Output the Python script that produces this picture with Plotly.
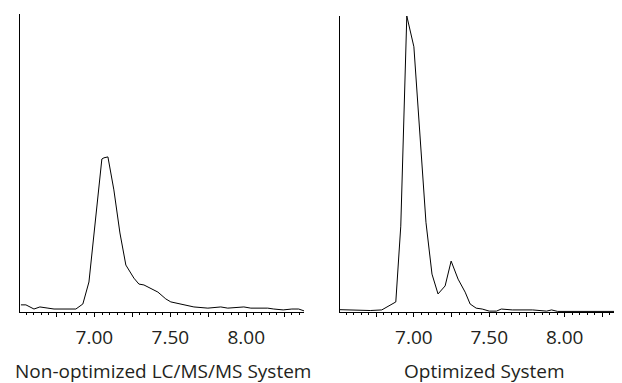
import plotly.graph_objects as go

# Non-optimized LC/MS/MS System (retention time, min; relative intensity, %)
left_time = [6.516, 6.549, 6.602, 6.641, 6.694, 6.734, 6.878, 6.924, 6.964, 6.997,
             7.023, 7.049, 7.063, 7.089, 7.128, 7.168, 7.207, 7.260, 7.293, 7.326,
             7.418, 7.470, 7.503, 7.536, 7.615, 7.655, 7.747, 7.832, 7.878, 7.944,
             7.984, 8.030, 8.141, 8.181, 8.243, 8.300, 8.345, 8.385]
left_intensity = [2.4, 2.4, 1.0, 1.7, 1.3, 1.0, 1.0, 2.7, 10.1, 26.6,
                  37.7, 51.5, 51.9, 52.2, 41.1, 26.6, 15.8, 11.4, 9.4, 9.1,
                  6.7, 4.4, 3.4, 3.0, 2.0, 1.7, 1.3, 1.7, 1.3, 1.7,
                  1.7, 1.3, 1.3, 1.0, 0.7, 1.0, 1.0, 0.3]

# Optimized System
right_time = [6.500, 6.633, 6.711, 6.787, 6.880, 6.913, 6.953, 7.000, 7.040, 7.080,
              7.120, 7.160, 7.207, 7.247, 7.293, 7.340, 7.373, 7.413, 7.453, 7.500,
              7.547, 7.580, 7.653, 7.787, 7.880, 7.913, 7.953, 8.187, 8.233, 8.380]
right_intensity = [0.8, 0.7, 0.5, 0.7, 3.4, 29.0, 100.0, 89.6, 60.6, 30.3,
                   12.8, 6.1, 8.8, 17.2, 11.1, 6.7, 2.7, 1.3, 1.0, 0.3,
                   0.3, 1.0, 0.7, 0.7, 0.3, 0.7, 0.2, 0.3, 0.2, 0.2]

tick_values = [6.75, 7.00, 7.25, 7.50, 7.75, 8.00, 8.25]
tick_labels = ["", "7.00", "", "7.50", "", "8.00", ""]

panel_titles = ["Non-optimized LC/MS/MS System", "Optimized System"]

# page has an 8px body margin, so the figure is 8px smaller than the window
W, H = 614, 375
FONT = "Open Sans"
TXT = "#231f20"
PLOT_H = 298

fig = go.Figure()
fig.add_trace(go.Scatter(x=left_time, y=left_intensity, mode="lines",
                         line=dict(color="black", width=1), xaxis="x", yaxis="y",
                         showlegend=False))
fig.add_trace(go.Scatter(x=right_time, y=right_intensity, mode="lines",
                         line=dict(color="black", width=1), xaxis="x2", yaxis="y2",
                         showlegend=False))

xcommon = dict(range=[6.51, 8.38], tickmode="array", tickvals=tick_values,
               ticktext=tick_labels, ticks="outside", ticklen=4, tickwidth=1,
               tickcolor="black", showline=True, linecolor="black", linewidth=1,
               showgrid=False, zeroline=False, ticklabelstandoff=4,
               tickfont=dict(family=FONT, size=19, color=TXT),
               minor=dict(dtick=0.05, tick0=6.5, ticks="outside", ticklen=2,
                          tickwidth=1, tickcolor="black", showgrid=False))
ycommon = dict(showline=True, linecolor="black", linewidth=1, ticks="",
               showticklabels=False, showgrid=False, zeroline=False)

fig.update_layout(
    width=W, height=H,
    margin=dict(l=0, r=0, t=6, b=71),
    paper_bgcolor="white", plot_bgcolor="white",
    xaxis=dict(domain=[12 / W, 296 / W], anchor="y", **xcommon),
    xaxis2=dict(domain=[332 / W, 1.0], anchor="y2", **xcommon),
    yaxis=dict(domain=[0, 1], anchor="x", range=[0, 100.3], **ycommon),
    yaxis2=dict(domain=[0, 1 - 2 / PLOT_H], anchor="x2", range=[0, 100], **ycommon),
)

for title, cx in zip(panel_titles, [154.5, 476]):
    fig.add_annotation(text=title, x=cx / W, y=-0.199, xref="paper",
                       yref="paper", xanchor="center", yanchor="middle",
                       showarrow=False, font=dict(family=FONT, size=19, color=TXT))

fig.write_html("out.html")
